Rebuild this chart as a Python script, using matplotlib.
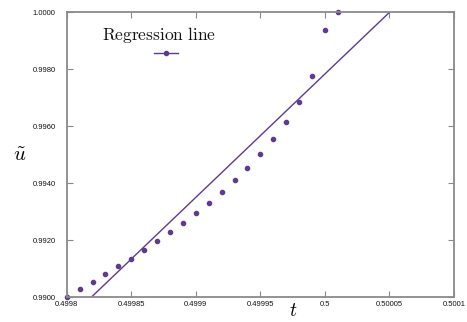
import numpy as np
import matplotlib
matplotlib.use("Agg")
import matplotlib.pyplot as plt
from matplotlib.lines import Line2D

plt.rcParams["mathtext.fontset"] = "cm"

# sampled points
t_vals = [0.49980, 0.49981, 0.49982, 0.49983, 0.49984, 0.49985, 0.49986,
          0.49987, 0.49988, 0.49989, 0.49990, 0.49991, 0.49992, 0.49993,
          0.49994, 0.49995, 0.49996, 0.49997, 0.49998, 0.49999, 0.50000,
          0.50001]
u_vals = [0.99000, 0.99029, 0.99054, 0.99082, 0.99109, 0.99135, 0.99166,
          0.99196, 0.99228, 0.99261, 0.99295, 0.99332, 0.99368, 0.99410,
          0.99454, 0.99502, 0.99554, 0.99614, 0.99685, 0.99778, 0.99937,
          1.00000]

# regression line end points
reg_t = [0.499819, 0.50005]
reg_u = [0.9900, 1.0000]

x_ticks = [0.4998, 0.49985, 0.4999, 0.49995, 0.5, 0.50005, 0.5001]
x_labels = ["0.4998", "0.49985", "0.4999", "0.49995", "0.5", "0.50005", "0.5001"]
y_ticks = [0.99, 0.992, 0.994, 0.996, 0.998, 1.0]
y_labels = ["0.9900", "0.9920", "0.9940", "0.9960", "0.9980", "1.0000"]

PURPLE = "#5e3b8e"
GREY = "#8a8a8a"

fig = plt.figure(figsize=(4.67, 3.22), dpi=100)
ax = fig.add_axes([0.1428, 0.0767, 0.8294, 0.8851])

ax.plot(reg_t, reg_u, color=PURPLE, lw=1.0, clip_on=True)
ax.plot(t_vals, u_vals, ls="none", marker="o", ms=3.0, color=PURPLE, clip_on=False)

ax.set_xlim(0.4998, 0.5001)
ax.set_ylim(0.99, 1.0)
ax.set_xticks(x_ticks)
ax.set_xticklabels(x_labels)
ax.set_yticks(y_ticks)
ax.set_yticklabels(y_labels)

for s in ax.spines.values():
    s.set_color(GREY)
    s.set_linewidth(1.3)

ax.tick_params(direction="in", length=4, width=0.8, color=GREY,
               top=True, right=True, labelsize=5.5, labelcolor="#111111")
ax.tick_params(axis="y", pad=8)
ax.tick_params(axis="x", pad=3)
for lab in ax.get_xticklabels() + ax.get_yticklabels():
    lab.set_fontfamily("Liberation Sans")

# legend: text above a sample line with a point
ax.text((159 - 66.7) / 387.3, 1 - (35 - 12.3) / 285, r"$\mathrm{Regression\ line}$",
        transform=ax.transAxes, ha="center", va="center", fontsize=12.5, color="#111111")
ax.add_line(Line2D([(154 - 66.7) / 387.3, (178 - 66.7) / 387.3],
                   [1 - (53.3 - 12.3) / 285] * 2, transform=ax.transAxes,
                   color=PURPLE, lw=1.0))
ax.add_line(Line2D([(166 - 66.7) / 387.3], [1 - (53.3 - 12.3) / 285],
                   transform=ax.transAxes, color=PURPLE, marker="o", ms=3.0))

fig.text(20 / 467, 1 - 155 / 322, r"$\tilde{u}$", fontsize=15, ha="center", va="center")
fig.text(293 / 467, 1 - 311 / 322, r"$t$", fontsize=14, ha="center", va="center")

fig.savefig("out.png", dpi=100)
